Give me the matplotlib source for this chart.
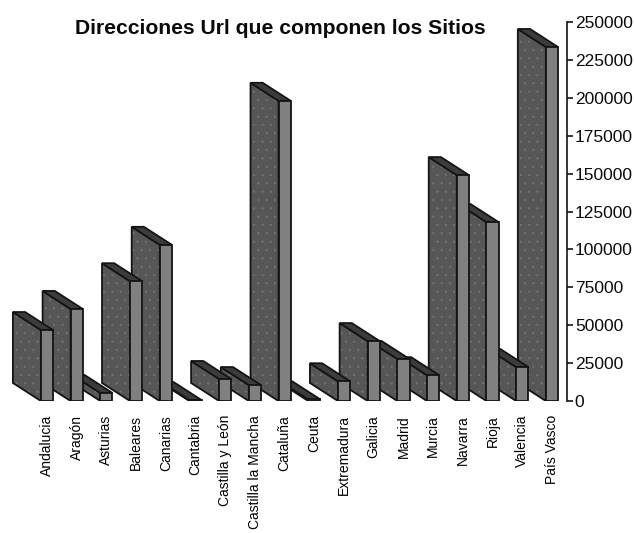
import matplotlib
matplotlib.use('Agg')
import matplotlib.pyplot as plt
from matplotlib.patches import Polygon

comunidades = ['Andalucia', 'Aragón', 'Asturias', 'Baleares', 'Canarias', 'Cantabria',
               'Castilla y León', 'Castilla la Mancha', 'Cataluña', 'Ceuta', 'Extremadura',
               'Galicia', 'Madrid', 'Murcia', 'Navarra', 'Rioja', 'Valencia', 'País Vasco']
urls = [46800, 60700, 5300, 79000, 103000, 600,
        14500, 10500, 198000, 1000, 13000,
        39500, 27700, 17000, 149000, 118000, 22400, 233500]
yticks = [0, 25000, 50000, 75000, 100000, 125000, 150000, 175000, 200000, 225000, 250000]

W, H = 634, 533
plt.rcParams['font.family'] = ['Liberation Sans', 'DejaVu Sans']
plt.rcParams['hatch.linewidth'] = 0.4

fig = plt.figure(figsize=(W / 100, H / 100), dpi=100)
ax = fig.add_axes([0, 1 - 401 / H, 566.5 / W, 379 / H])
ax.set_xlim(-1.582, 17.49)
ax.set_ylim(0, 250000)

ancho = 0.41      # front face width
fondo_x = 0.943   # depth of the bars, going back and to the left
fondo_y = 11900
edge = '#141414'
lw = 1.3

# the bars to the right sit behind, so they get a lower zorder
for i, v in enumerate(urls):
    z = 100 - i
    x0 = i - ancho / 2
    x1 = i + ancho / 2
    lado = [(x0, 0), (x0, v), (x0 - fondo_x, v + fondo_y), (x0 - fondo_x, fondo_y)]
    tapa = [(x0, v), (x1, v), (x1 - fondo_x, v + fondo_y), (x0 - fondo_x, v + fondo_y)]
    frente = [(x0, 0), (x1, 0), (x1, v), (x0, v)]
    ax.add_patch(Polygon(lado, closed=True, facecolor='#565656', edgecolor='none', zorder=z))
    ax.add_patch(Polygon(lado, closed=True, fill=False, edgecolor='#727272', linewidth=0,
                         hatch='..', zorder=z))
    ax.add_patch(Polygon(lado, closed=True, fill=False, edgecolor=edge, linewidth=lw,
                         joinstyle='miter', zorder=z))
    ax.add_patch(Polygon(tapa, closed=True, facecolor='#3c3c3c', edgecolor=edge, linewidth=lw,
                         joinstyle='miter', zorder=z))
    ax.add_patch(Polygon(frente, closed=True, facecolor='#808080', edgecolor=edge, linewidth=lw,
                         joinstyle='miter', zorder=z))

for s in ['left', 'top', 'bottom']:
    ax.spines[s].set_visible(False)
ax.spines['right'].set_linewidth(1.2)
ax.spines['right'].set_color('#141414')
ax.patch.set_visible(False)

ax.yaxis.tick_right()
ax.set_yticks(yticks)
ax.set_yticklabels([str(t) for t in yticks], fontsize=12.5)
ax.tick_params(axis='y', length=4.5, width=1.2, pad=1.5, color='#141414', labelcolor='#0a0a0a')

ax.set_xticks(range(len(comunidades)))
ax.set_xticklabels(comunidades, rotation=90, fontsize=10)
ax.tick_params(axis='x', length=0, pad=10)

fig.text(280 / W, 1 - 29 / H, 'Direcciones Url que componen los Sitios', ha='center', va='center',
         fontsize=15.2, fontweight='bold', color='#0a0a0a')

fig.savefig('out.png', dpi=100)
